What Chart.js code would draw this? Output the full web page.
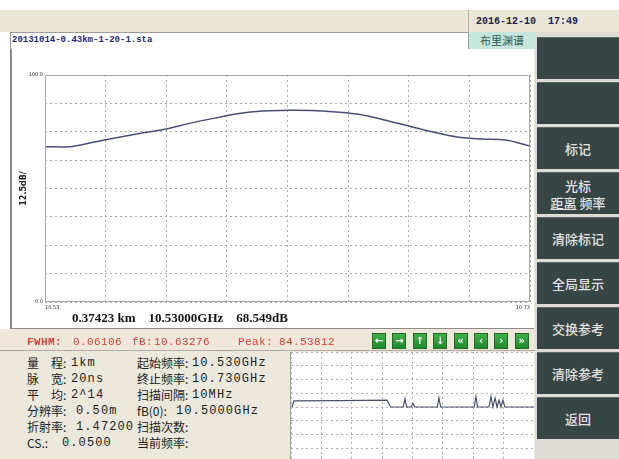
<!DOCTYPE html>
<html>
<head>
<meta charset="utf-8">
<script src="https://cdn.jsdelivr.net/npm/chart.js@4.4.0/dist/chart.umd.min.js"></script>
<style>
  html, body { margin: 0; padding: 0; }
  body { width: 619px; height: 459px; overflow: hidden; position: relative; background: #ece8dc; font-family: "Noto Sans CJK SC", sans-serif; }
  .abs { position: absolute; }
  #topwhite { left: 0; top: 0; width: 619px; height: 10px; background: #fff; }
  #leftwhite { left: 0; top: 32px; width: 10px; height: 297px; background: #fff; }
  #topbar { left: 0; top: 10px; width: 619px; height: 22px; background: #ebe7d6; }
  #datebox { left: 468px; top: 10px; width: 151px; height: 22px; border-left: 1px solid #b8b4a8; }
  #date { left: 476px; top: 16px; font: bold 10px "Liberation Mono", monospace; color: #1e2250; white-space: pre; }
  #fileBar { left: 10px; top: 32px; width: 457px; height: 16px; background: #fff; border: 1px solid #9c9c9c; border-bottom: 2px solid #b8b8b8; }
  #fileName { left: 12px; top: 35px; font: bold 9px "Liberation Mono", monospace; color: #24287a; }
  #tab { left: 469px; top: 32px; width: 66px; height: 17px; background: #c6e6dc; color: #2a5e52; font-size: 11px; text-align: center; line-height: 17px; }
  #mainPanel { left: 10px; top: 49px; width: 522px; height: 279px; background: #fff; border-left: 2px solid #8c8c8c; border-bottom: 1px solid #8c8c8c; }
  #mainWrap { left: 10px; top: 49px; width: 523px; height: 280px; }
  #readout { left: 72px; top: 310px; font: bold 13px "Liberation Serif", serif; color: #151515; white-space: pre; }
  #status { left: 0; top: 329px; width: 535px; height: 21px; background: #efe8da; border-bottom: 1px solid #b0aca0; }
  .red { color: #d4403a; font: 11px "Liberation Mono", monospace; top: 336px; white-space: pre; letter-spacing: 0.4px; }
  .gbtn { top: 333px; width: 12px; height: 14px; background: linear-gradient(#3fb04a, #1f8a2c); border: 1px solid #1b6e24; color: #fff; font: bold 10px "DejaVu Sans", sans-serif; text-align: center; line-height: 14px; }
  .lab { font-size: 12px; color: #1c1c1c; white-space: pre; }
  .val { font: 12px "Liberation Mono", monospace; color: #1c1c1c; letter-spacing: 1.1px; white-space: pre; }
  #miniWrap { left: 290px; top: 352px; width: 243px; height: 110px; background: #fff; border-left: 1px solid #a0a0a0; }
  #rightPanel { left: 535px; top: 32px; width: 84px; height: 427px; background: #dcdcd4; }
  .btn { left: 537px; width: 82px; height: 41px; background: #384545; border-top: 1px solid #5a6868; color: #e2e2e2; font-size: 13px; font-weight: 500; text-align: center; display: flex; flex-direction: column; justify-content: center; }
</style>
</head>
<body>
<div class="abs" id="topwhite"></div>
<div class="abs" id="topbar"></div>
<div class="abs" id="leftwhite"></div>
<div class="abs" id="datebox"></div>
<div class="abs" id="date">2016-12-10  17:49</div>
<div class="abs" id="fileBar"></div>
<div class="abs" id="fileName">20131014-0.43km-1-20-1.sta</div>
<div class="abs" id="tab">布里渊谱</div>
<div class="abs" id="mainPanel"></div>
<div class="abs" id="mainWrap"><canvas id="mainChart"></canvas></div>
<div class="abs" id="readout">0.37423 km    10.53000GHz    68.549dB</div>
<div class="abs" id="status"></div>
<div class="abs" id="miniWrap"><canvas id="miniChart"></canvas></div>
<div class="abs" id="rightPanel"></div>

<script>
// brillouin spectrum at cursor (GHz, dB)
const freqGHz = [10.53, 10.54, 10.55, 10.56, 10.57, 10.58, 10.59, 10.60, 10.61, 10.62, 10.63,
                 10.64, 10.65, 10.66, 10.67, 10.68, 10.69, 10.70, 10.71, 10.72, 10.73];
const gainDb = [68.4, 68.4, 70.4, 72.5, 74.4, 76.2, 78.8, 81.0, 83.0, 84.1, 84.5,
                84.4, 83.7, 82.6, 80.2, 77.5, 74.9, 72.7, 71.8, 71.4, 68.7];
const yTickEnds = ['100.0', '0.0'];
const xTickEnds = ['10.53', '10.73'];

// distance trace, small window
const distKm = [0.004, 0.012, 0.20, 0.395, 0.41, 0.462, 0.469, 0.476, 0.495, 0.502, 0.509,
                0.602, 0.609, 0.616, 0.754, 0.761, 0.768, 0.815, 0.823, 0.831, 0.840,
                0.848, 0.856, 0.864, 0.872, 0.88, 1.0];
const traceLevel = [4.0, 4.45, 4.47, 4.5, 4.0, 4.0, 4.6, 4.0, 4.0, 4.25, 4.0,
                    4.0, 4.65, 4.0, 4.0, 4.75, 4.0, 4.0, 4.75, 4.0, 4.65,
                    4.0, 4.5, 4.0, 4.5, 4.0, 4.0];

const statusItems = [['FWHM:', 27], ['0.06106', 73], ['fB:', 132], ['10.63276', 154], ['Peak:', 238], ['84.53812', 279]];
const arrowGlyphs = ['←', '→', '↑', '↓', '«', '‹', '›', '»'];

const infoLeft = [['量　程:', '1km', 71], ['脉　宽:', '20ns', 71], ['平　均:', '2^14', 71],
                  ['分辨率:', '0.50m', 76], ['折射率:', '1.47200', 76], ['CS.:', '0.0500', 62]];
const infoRight = [['起始频率:', '10.530GHz', 192], ['终止频率:', '10.730GHz', 192], ['扫描间隔:', '10MHz', 192],
                   ['fB(0):', '10.5000GHz', 176], ['扫描次数:', '', 192], ['当前频率:', '', 192]];
const menuLabels = ['', '', '标记', '光标<br><span style="text-decoration:underline">距离</span> 频率', '清除标记', '全局显示', '交换参考', '清除参考', '返回'];

function addDiv(cls, html, x, y) {
    const d = document.createElement('div');
    d.className = 'abs ' + cls;
    d.innerHTML = html;
    d.style.left = x + 'px';
    d.style.top = y + 'px';
    document.body.appendChild(d);
    return d;
}

statusItems.forEach(s => {
    const d = addDiv('red', s[0], s[1], 336);
    if (s[0] == 'FWHM:') d.style.fontWeight = 'bold';
});
arrowGlyphs.forEach((g, i) => addDiv('gbtn', g, 372 + i * 20.4, 333));

for (let i = 0; i < 6; i++) {
    const y = 354 + i * 16;
    addDiv('lab', infoLeft[i][0], 27, y);
    addDiv('val', infoLeft[i][1], infoLeft[i][2], y + 2);
    addDiv('lab', infoRight[i][0], 137, y);
    addDiv('val', infoRight[i][1], infoRight[i][2], y + 2);
}

menuLabels.forEach((t, i) => {
    const d = addDiv('btn', '<div>' + t + '</div>', 537, 37 + i * 45);
    if (i == 3) d.firstChild.style.lineHeight = '17px';
});

const plotBorder = {
    id: 'plotBorder',
    afterDraw(chart) {
        const a = chart.chartArea, ctx = chart.ctx;
        ctx.save();
        ctx.strokeStyle = '#a8a8a8';
        ctx.lineWidth = 1;
        ctx.strokeRect(a.left + 0.5, a.top + 0.5, a.right - a.left - 1, a.bottom - a.top - 1);
        ctx.restore();
    }
};

new Chart(document.getElementById('mainChart'), {
    type: 'line',
    data: {
        datasets: [{
            data: freqGHz.map((f, i) => ({ x: f, y: gainDb[i] })),
            borderColor: '#4b4f78',
            borderWidth: 1.5,
            pointRadius: 0,
            tension: 0.3
        }]
    },
    options: {
        responsive: true,
        maintainAspectRatio: false,
        animation: false,
        layout: { padding: { top: 26, right: 1, bottom: 17, left: 0 } },
        plugins: { legend: { display: false }, tooltip: { enabled: false } },
        scales: {
            x: {
                type: 'linear', min: 10.53, max: 10.73,
                afterFit(s) { s.height = 10; },
                afterBuildTicks(s) { s.ticks = []; for (let i = 0; i <= 8; i++) s.ticks.push({ value: 10.53 + i * 0.025 }); },
                grid: { color: '#a9a9a9', drawTicks: false },
                border: { display: false, dash: [2, 3] },
                ticks: {
                    padding: 3, align: 'inner', maxRotation: 0, autoSkip: false,
                    color: '#333', font: { size: 5, family: 'DejaVu Sans' },
                    callback: (v, i, t) => i == 0 ? xTickEnds[0] : (i == t.length - 1 ? xTickEnds[1] : '')
                }
            },
            y: {
                min: 0, max: 100,
                afterFit(s) { s.width = 35; },
                grid: { color: '#a9a9a9', drawTicks: false },
                border: { display: false, dash: [2, 3] },
                ticks: {
                    stepSize: 12.5, padding: 2, autoSkip: false,
                    color: '#333', font: { size: 5, family: 'DejaVu Sans' },
                    callback: v => v == 100 ? yTickEnds[0] : (v == 0 ? yTickEnds[1] : '')
                },
                title: { display: true, text: '12.5dB/', color: '#222', font: { size: 8, weight: 'bold', family: 'DejaVu Sans' }, padding: { top: 9, bottom: 0 } }
            }
        }
    },
    plugins: [plotBorder]
});

new Chart(document.getElementById('miniChart'), {
    type: 'line',
    data: {
        datasets: [{
            data: distKm.map((d, i) => ({ x: d, y: traceLevel[i] })),
            borderColor: '#4a5070',
            borderWidth: 1.2,
            pointRadius: 0,
            tension: 0
        }]
    },
    options: {
        responsive: true,
        maintainAspectRatio: false,
        animation: false,
        layout: { padding: 0 },
        plugins: { legend: { display: false }, tooltip: { enabled: false } },
        scales: {
            x: {
                type: 'linear', min: 0, max: 1,
                afterFit(s) { s.height = 0; },
                grid: { color: '#b0b0b0', drawTicks: false },
                border: { display: false, dash: [2, 3] },
                ticks: { display: false, stepSize: 0.125 }
            },
            y: {
                min: 0, max: 8,
                afterFit(s) { s.width = 0; },
                grid: { color: '#b0b0b0', drawTicks: false },
                border: { display: false, dash: [2, 3] },
                ticks: { display: false, stepSize: 1 }
            }
        }
    }
});
</script>
</body>
</html>
